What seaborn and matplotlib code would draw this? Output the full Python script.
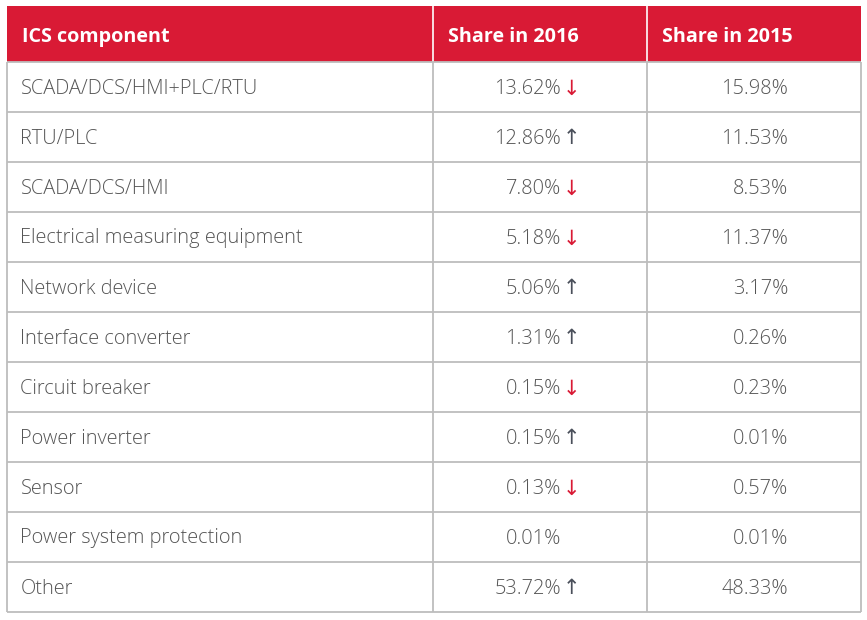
import matplotlib
matplotlib.use("Agg")
import matplotlib.pyplot as plt
from matplotlib.patches import Rectangle
import seaborn as sns

# ---- data ----
headers = ["ICS component", "Share in 2016", "Share in 2015"]
components = [
    "SCADA/DCS/HMI+PLC/RTU", "RTU/PLC", "SCADA/DCS/HMI",
    "Electrical measuring equipment", "Network device",
    "Interface converter", "Circuit breaker", "Power inverter",
    "Sensor", "Power system protection", "Other",
]
share_2016 = [13.62, 12.86, 7.80, 5.18, 5.06, 1.31, 0.15, 0.15, 0.13, 0.01, 53.72]
share_2015 = [15.98, 11.53, 8.53, 11.37, 3.17, 0.26, 0.23, 0.01, 0.57, 0.01, 48.33]
trend_2016 = ["down", "up", "down", "down", "up", "up", "down", "up", "down", "", "up"]

sns.set_theme(style="white")
plt.rcParams['font.family'] = ['Open Sans', 'DejaVu Sans']

RED = "#d91a35"
GRID = "#bdbdbd"
TEXT = "#555555"
UP = "#4a4f5a"

fig = plt.figure(figsize=(8.67, 6.2), dpi=100)
ax = fig.add_axes([0, 0, 1, 1])
ax.set_xlim(0, 867)
ax.set_ylim(620, 0)
ax.axis("off")

x_edges = [6.5, 432.5, 646.5, 860.5]
top = 6
header_h = 56
row_h = 50
n = len(components)
bottom = top + header_h + n * row_h

# header background
ax.add_patch(Rectangle((x_edges[0], top), x_edges[-1] - x_edges[0], header_h,
                       facecolor=RED, edgecolor="none", zorder=1))
for xe in x_edges[1:-1]:
    ax.vlines(xe, top, top + header_h, color="white", lw=1.2, zorder=2)
for i, h in enumerate(headers):
    ax.text(x_edges[i] + 15, top + header_h / 2 + 3, h, color="white",
            fontsize=14.2, fontweight="bold", ha="left", va="center", zorder=3)

# grid lines
for r in range(n + 1):
    y = top + header_h + r * row_h
    ax.hlines(y, x_edges[0], x_edges[-1], color=GRID, lw=1.3, zorder=2)
for xe in x_edges:
    ax.vlines(xe, top + header_h, bottom, color=GRID, lw=1.3, zorder=2)

FS = 14.4
val16_right = 561
val15_right = 788
for r in range(n):
    yc = top + header_h + r * row_h + row_h / 2 + 1.5
    ax.text(x_edges[0] + 14, yc, components[r], color=TEXT, fontsize=FS,
            fontweight="light", ha="left", va="center")
    ax.text(val16_right, yc, f"{share_2016[r]:.2f}%", color=TEXT, fontsize=FS,
            fontweight="light", ha="right", va="center")
    if trend_2016[r] == "up":
        ax.text(val16_right + 2, yc, "\u2191", color=UP, fontsize=15,
                ha="left", va="center", family=['DejaVu Sans'])
    elif trend_2016[r] == "down":
        ax.text(val16_right + 2, yc, "\u2193", color=RED, fontsize=15,
                ha="left", va="center", family=['DejaVu Sans'])
    ax.text(val15_right, yc, f"{share_2015[r]:.2f}%", color=TEXT, fontsize=FS,
            fontweight="light", ha="right", va="center")

fig.savefig("out.png", dpi=100, facecolor="white")
